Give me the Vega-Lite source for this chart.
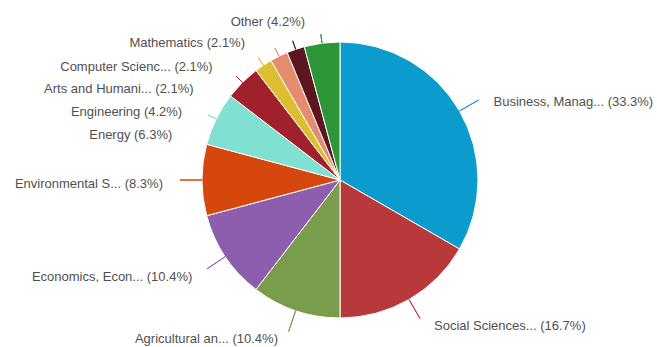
{
  "$schema": "https://vega.github.io/schema/vega-lite/v6.json",
  "width": 634,
  "height": 334,
  "padding": {"left": 23, "top": 13, "right": 0, "bottom": 0},
  "autosize": "none",
  "background": "white",
  "config": {"view": {"stroke": null}, "text": {"font": "Liberation Sans", "fontSize": 13, "fill": "#505050", "baseline": "middle"}},
  "data": {
    "values": [
      {"order": 1, "category": "Business, Manag...", "count": 16, "label": "Business, Manag... (33.3%)"},
      {"order": 2, "category": "Social Sciences...", "count": 8, "label": "Social Sciences... (16.7%)"},
      {"order": 3, "category": "Agricultural an...", "count": 5, "label": "Agricultural an... (10.4%)"},
      {"order": 4, "category": "Economics, Econ...", "count": 5, "label": "Economics, Econ... (10.4%)"},
      {"order": 5, "category": "Environmental S...", "count": 4, "label": "Environmental S... (8.3%)"},
      {"order": 6, "category": "Energy", "count": 3, "label": "Energy (6.3%)"},
      {"order": 7, "category": "Engineering", "count": 2, "label": "Engineering (4.2%)"},
      {"order": 8, "category": "Arts and Humani...", "count": 1, "label": "Arts and Humani... (2.1%)"},
      {"order": 9, "category": "Computer Scienc...", "count": 1, "label": "Computer Scienc... (2.1%)"},
      {"order": 10, "category": "Mathematics", "count": 1, "label": "Mathematics (2.1%)"},
      {"order": 11, "category": "Other", "count": 2, "label": "Other (4.2%)"}
    ]
  },
  "transform": [
    {"stack": "count", "groupby": [], "sort": [{"field": "order", "order": "ascending"}], "as": ["s0", "s1"]},
    {"fold": ["s0", "s1"], "as": ["edge", "ang"]},
    {"aggregate": [
      {"op": "min", "field": "ang", "as": "a0"},
      {"op": "max", "field": "ang", "as": "a1"},
      {"op": "mean", "field": "ang", "as": "mid"}
    ], "groupby": ["category", "label", "order"]}
  ],
  "layer": [
    {
      "mark": {"type": "arc", "radius": 138, "stroke": "white", "strokeWidth": 1},
      "encoding": {
        "theta": {"field": "a0", "type": "quantitative", "scale": {"type": "linear", "domain": [0, 48], "range": [0, 6.283185307179586]}},
        "theta2": {"field": "a1"},
        "color": {
          "field": "category", "type": "nominal", "legend": null,
          "scale": {
            "domain": ["Business, Manag...", "Social Sciences...", "Agricultural an...", "Economics, Econ...", "Environmental S...", "Energy", "Engineering", "Arts and Humani...", "Computer Scienc...", "Mathematics", "Other"],
            "range": ["#0B9BCC", "#B8393C", "#7A9D4C", "#8D5DAE", "#D5470C", "#80E0D2", "#A0202B", "#DDBE31", "#E38C6E", "#5C1620", "#2E9636"]
          }
        }
      }
    },
    {
      "transform": [{"filter": {"field": "order", "lte": 5}}],
      "mark": {"type": "arc", "radius": 160, "radius2": 138, "filled": false, "strokeWidth": 1},
      "encoding": {
        "theta": {"field": "mid", "type": "quantitative", "stack": null},
        "theta2": {"field": "mid"},
        "color": {"field": "category", "type": "nominal", "legend": null}
      }
    },
    {
      "transform": [{"filter": {"field": "order", "gt": 5}}],
      "mark": {"type": "arc", "radius": 147, "radius2": 138, "filled": false, "strokeWidth": 1},
      "encoding": {
        "theta": {"field": "mid", "type": "quantitative", "stack": null},
        "theta2": {"field": "mid"},
        "color": {"field": "category", "type": "nominal", "legend": null}
      }
    },
    {
      "transform": [{"filter": {"field": "order", "equal": 1}}],
      "mark": {"type": "text", "align": "left", "dx": 8, "dy": 6},
      "encoding": {"theta": {"field": "mid", "type": "quantitative", "stack": null}, "radius": {"value": 168}, "text": {"field": "label"}}
    },
    {
      "transform": [{"filter": {"field": "order", "equal": 2}}],
      "mark": {"type": "text", "align": "left", "dx": 10, "dy": 1},
      "encoding": {"theta": {"field": "mid", "type": "quantitative", "stack": null}, "radius": {"value": 168}, "text": {"field": "label"}}
    },
    {
      "transform": [{"filter": {"field": "order", "equal": 3}}],
      "mark": {"type": "text", "align": "right", "dx": -8, "dy": 0},
      "encoding": {"theta": {"field": "mid", "type": "quantitative", "stack": null}, "radius": {"value": 168}, "text": {"field": "label"}}
    },
    {
      "transform": [{"filter": {"field": "order", "equal": 4}}],
      "mark": {"type": "text", "align": "right", "dx": -8, "dy": 4},
      "encoding": {"theta": {"field": "mid", "type": "quantitative", "stack": null}, "radius": {"value": 168}, "text": {"field": "label"}}
    },
    {
      "transform": [{"filter": {"field": "order", "equal": 5}}],
      "mark": {"type": "text", "align": "right", "dx": -9, "dy": 4},
      "encoding": {"theta": {"field": "mid", "type": "quantitative", "stack": null}, "radius": {"value": 168}, "text": {"field": "label"}}
    },
    {
      "transform": [{"filter": {"field": "order", "equal": 6}}],
      "mark": {"type": "text", "align": "right", "dx": -17, "dy": 29},
      "encoding": {"theta": {"field": "mid", "type": "quantitative", "stack": null}, "radius": {"value": 168}, "text": {"field": "label"}}
    },
    {
      "transform": [{"filter": {"field": "order", "equal": 7}}],
      "mark": {"type": "text", "align": "right", "dx": -39, "dy": 51},
      "encoding": {"theta": {"field": "mid", "type": "quantitative", "stack": null}, "radius": {"value": 168}, "text": {"field": "label"}}
    },
    {
      "transform": [{"filter": {"field": "order", "equal": 8}}],
      "mark": {"type": "text", "align": "right", "dx": -53, "dy": 49},
      "encoding": {"theta": {"field": "mid", "type": "quantitative", "stack": null}, "radius": {"value": 168}, "text": {"field": "label"}}
    },
    {
      "transform": [{"filter": {"field": "order", "equal": 9}}],
      "mark": {"type": "text", "align": "right", "dx": -53, "dy": 38},
      "encoding": {"theta": {"field": "mid", "type": "quantitative", "stack": null}, "radius": {"value": 168}, "text": {"field": "label"}}
    },
    {
      "transform": [{"filter": {"field": "order", "equal": 10}}],
      "mark": {"type": "text", "align": "right", "dx": -41, "dy": 22},
      "encoding": {"theta": {"field": "mid", "type": "quantitative", "stack": null}, "radius": {"value": 168}, "text": {"field": "label"}}
    },
    {
      "transform": [{"filter": {"field": "order", "equal": 11}}],
      "mark": {"type": "text", "align": "right", "dx": -13, "dy": 9},
      "encoding": {"theta": {"field": "mid", "type": "quantitative", "stack": null}, "radius": {"value": 168}, "text": {"field": "label"}}
    }
  ]
}
